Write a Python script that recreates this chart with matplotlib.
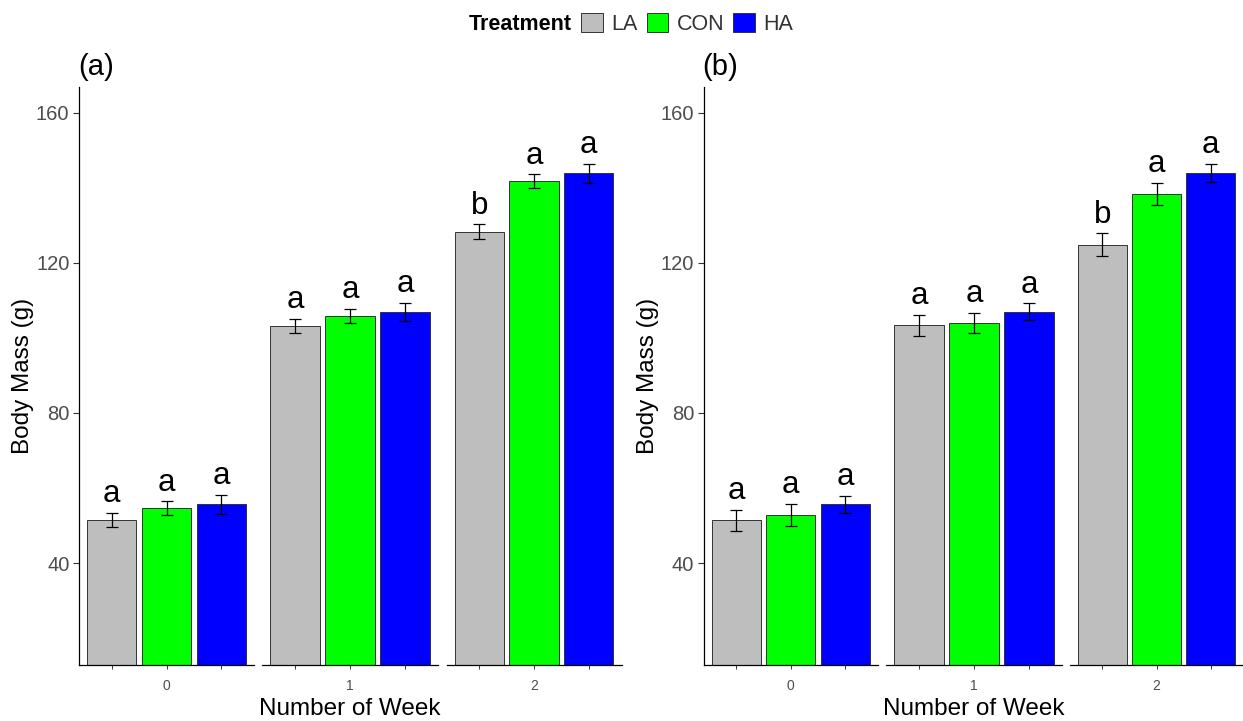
import matplotlib
matplotlib.use('Agg')
import matplotlib.pyplot as plt
from matplotlib.patches import Patch

plt.rcParams['font.family'] = ['Liberation Sans', 'DejaVu Sans']

# ---------------- data ----------------
treatments = ['LA', 'CON', 'HA']
colors = ['#BEBEBE', '#00FF00', '#0000FF']
weeks = ['0', '1', '2']
yticks = [40, 80, 120, 160]

# panel (a): mean per treatment across weeks 0,1,2
a_LA = [51.4, 103.1, 128.3]
a_CON = [54.6, 105.8, 141.7]
a_HA = [55.7, 106.9, 143.8]
a_LA_se = [1.9, 1.9, 1.9]
a_CON_se = [1.8, 1.8, 1.8]
a_HA_se = [2.5, 2.5, 2.5]
a_letters = [['a', 'a', 'b'], ['a', 'a', 'a'], ['a', 'a', 'a']]  # per treatment, per week

# panel (b)
b_LA = [51.4, 103.3, 124.8]
b_CON = [52.8, 103.9, 138.3]
b_HA = [55.6, 106.9, 143.9]
b_LA_se = [2.75, 2.8, 3.0]
b_CON_se = [2.9, 2.75, 2.85]
b_HA_se = [2.35, 2.25, 2.4]
b_letters = [['a', 'a', 'b'], ['a', 'a', 'a'], ['a', 'a', 'a']]

panels = [
    ('(a)', [a_LA, a_CON, a_HA], [a_LA_se, a_CON_se, a_HA_se], a_letters),
    ('(b)', [b_LA, b_CON, b_HA], [b_LA_se, b_CON_se, b_HA_se], b_letters),
]

# ---------------- layout ----------------
W, H = 1243, 721
fig = plt.figure(figsize=(W / 100, H / 100), dpi=100)

bottom_px, top_px = 664.8, 87.4
facet_px = [
    [(78.8, 254.3), (262.0, 438.0), (446.5, 621.6)],
    [(703.5, 878.0), (886.0, 1062.0), (1070.0, 1243.0)],
]
ylim = (12.9, 166.7)
grey30 = '#4D4D4D'
grey20 = '#333333'

for p, (plabel, means, ses, letters) in enumerate(panels):
    axes = []
    for w, (l, r) in enumerate(facet_px[p]):
        ax = fig.add_axes([l / W, 1 - bottom_px / H, (r - l) / W, (bottom_px - top_px) / H])
        axes.append(ax)
        xs = [1, 2, 3]
        for t in range(3):
            m = means[t][w]
            se = ses[t][w]
            ax.bar(xs[t], m, width=0.9, color=colors[t], edgecolor=grey20,
                   linewidth=0.7, zorder=2)
            ax.errorbar(xs[t], m, yerr=se, fmt='none', ecolor='black',
                        elinewidth=0.9, capsize=4.1, capthick=0.9, zorder=3)
            ax.text(xs[t], m + se + 2.9, letters[t][w], ha='center', va='baseline',
                    fontsize=22.5, color='black', zorder=4)
        ax.set_xlim(0.4, 3.6)
        ax.set_ylim(*ylim)
        ax.set_facecolor('none')
        for s in ['top', 'right']:
            ax.spines[s].set_visible(False)
        ax.spines['bottom'].set_linewidth(0.9)
        ax.spines['bottom'].set_color('black')
        ax.set_xticks([1, 2, 3])
        ax.set_xticklabels(['', weeks[w], ''])
        ax.tick_params(axis='x', length=3, width=0.7, colors=grey20, pad=6.9,
                       labelsize=10, labelcolor=grey30)
        if w == 0:
            ax.spines['left'].set_linewidth(0.9)
            ax.spines['left'].set_color('black')
            ax.set_yticks(yticks)
            ax.set_yticklabels([str(v) for v in yticks])
            ax.tick_params(axis='y', length=4, width=0.8, colors=grey20, pad=2.7,
                           labelsize=14.5, labelcolor=grey30)
            ax.set_ylabel('Body Mass (g)', fontsize=17.5, color='black')
            ax.yaxis.set_label_coords(-0.316, 0.5)
            ax.yaxis.label.set_va('center')
        else:
            ax.spines['left'].set_visible(False)
            ax.set_yticks([])
        if w == 1:
            ax.set_xlabel('Number of Week', fontsize=17.5, color='black')
            ax.xaxis.set_label_coords(0.5, -0.0757)
            ax.xaxis.label.set_va('center')
    l0 = facet_px[p][0][0]
    fig.text((l0 - 1) / W, 1 - 67 / H, plabel, fontsize=21, ha='left', va='center')

# ---------------- legend ----------------
handles = [Patch(facecolor=c, edgecolor=grey20, linewidth=0.7) for c in colors]
fig.text(572 / W, 1 - 24 / H, 'Treatment', fontsize=15.5, fontweight='bold',
         ha='right', va='center')
fig.legend(handles, treatments, loc='center left', bbox_to_anchor=(581 / W, 1 - 24 / H),
           ncol=3, frameon=False, fontsize=15.5, handlelength=1.0, handleheight=1.0,
           handletextpad=0.4, columnspacing=0.42, borderpad=0, borderaxespad=0,
           labelcolor=grey20)

fig.savefig('out.png', dpi=100)
